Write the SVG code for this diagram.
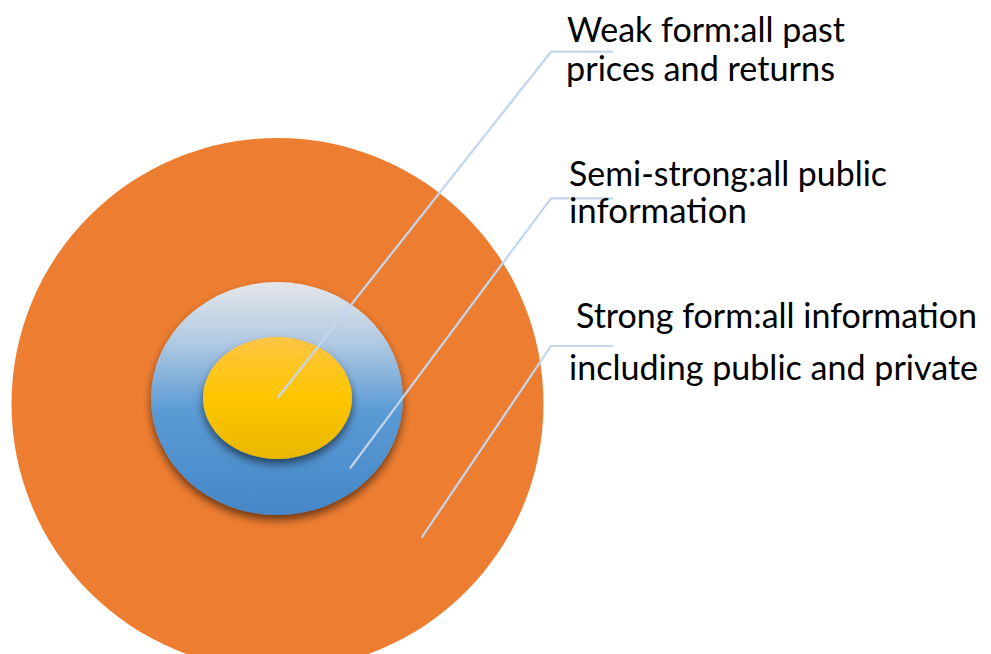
<svg xmlns="http://www.w3.org/2000/svg" width="991" height="654" viewBox="0 0 991 654">
<defs>
<linearGradient id="gBlue" x1="0" y1="0" x2="0" y2="1">
<stop offset="0" stop-color="#e4e6e9"/>
<stop offset="0.25" stop-color="#b3cbe2"/>
<stop offset="0.55" stop-color="#5b9bd5"/>
<stop offset="1" stop-color="#4587c8"/>
</linearGradient>
<linearGradient id="gYellow" x1="0" y1="0" x2="0" y2="1">
<stop offset="0" stop-color="#ffc444"/>
<stop offset="0.5" stop-color="#ffc600"/>
<stop offset="1" stop-color="#e9b700"/>
</linearGradient>
<filter id="shadow" x="-20%" y="-20%" width="140%" height="150%">
<feDropShadow dx="0" dy="5" stdDeviation="4" flood-color="#000" flood-opacity="0.55"/>
</filter>
<style>
.lbl{font-family:"Lato","Open Sans","Liberation Sans",sans-serif;font-size:34px;fill:#000;}
.lead{fill:none;stroke:#c3d6ee;stroke-width:2.2;}
</style>
</defs>
<rect width="991" height="654" fill="#fff"/>
<g id="strong">
<circle cx="277.5" cy="404" r="266" fill="#ed7d31"/>
</g>
<g id="semi-strong">
<ellipse cx="277" cy="398.5" rx="126" ry="116.5" fill="url(#gBlue)" filter="url(#shadow)"/>
</g>
<g id="weak">
<ellipse cx="277.5" cy="398" rx="74.5" ry="61" fill="url(#gYellow)" filter="url(#shadow)"/>
</g>
<g id="connectors">
<polyline class="lead" points="277.7,397.7 551,51.7 613,51.7"/>
<polyline class="lead" points="350,468.3 551,198.3 613,198.3"/>
<polyline class="lead" points="421.7,537.5 551,346 613,346"/>
</g>
<g id="labels">
<text class="lbl" x="567" y="42" textLength="278" lengthAdjust="spacingAndGlyphs">Weak form:all past</text>
<text class="lbl" x="566" y="81" textLength="269" lengthAdjust="spacingAndGlyphs">prices and returns</text>
<text class="lbl" x="569" y="186" textLength="318" lengthAdjust="spacingAndGlyphs">Semi-strong:all public</text>
<text class="lbl" x="569" y="223" textLength="178" lengthAdjust="spacingAndGlyphs">information</text>
<text class="lbl" x="576" y="328" textLength="401" lengthAdjust="spacingAndGlyphs">Strong form:all information</text>
<text class="lbl" x="569" y="380" textLength="409" lengthAdjust="spacingAndGlyphs">including public and private</text>
</g>
</svg>
